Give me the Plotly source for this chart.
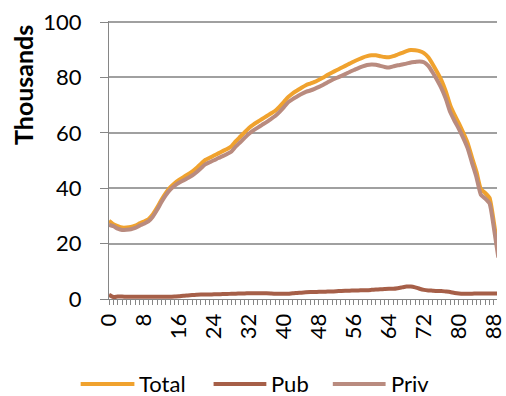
import plotly.graph_objects as go

# Age in single years
age = list(range(90))

# Population by age, thousands
total = [
    28.3, 27.0, 26.3, 25.8, 25.8, 26.0, 26.5, 27.3, 28.0, 28.8,
    30.5, 33.0, 35.8, 38.3, 40.3, 41.8, 43.0, 44.0, 45.0, 46.0,
    47.3, 48.8, 50.2, 51.0, 51.8, 52.6, 53.4, 54.2, 55.2, 57.0,
    58.6, 60.2, 61.8, 63.0, 64.0, 65.0, 66.0, 67.0, 68.0, 69.5,
    71.2, 73.0, 74.3, 75.3, 76.3, 77.2, 77.8, 78.4, 79.2, 80.0,
    81.0, 81.8, 82.6, 83.4, 84.2, 85.0, 85.8, 86.5, 87.2, 87.7,
    88.0, 88.0, 87.7, 87.4, 87.3, 87.7, 88.3, 88.9, 89.5, 89.9,
    89.8, 89.5, 88.8, 87.3, 84.8, 82.0, 79.0, 75.0, 70.0, 66.5,
    63.4, 60.0, 56.3, 51.0, 46.0, 39.7, 38.3, 36.5, 27.5, 17.0,
]
pub = [
    1.5, 0.7, 0.9, 0.9, 0.8, 0.8, 0.8, 0.8, 0.8, 0.8,
    0.8, 0.8, 0.8, 0.8, 0.8, 0.9, 1.0, 1.2, 1.3, 1.4,
    1.5, 1.6, 1.6, 1.6, 1.7, 1.7, 1.8, 1.8, 1.9, 1.9,
    2.0, 2.0, 2.1, 2.1, 2.1, 2.1, 2.1, 2.0, 1.9, 1.9,
    1.9, 1.9, 2.1, 2.2, 2.3, 2.4, 2.5, 2.5, 2.6, 2.6,
    2.7, 2.7, 2.8, 2.9, 3.0, 3.0, 3.1, 3.1, 3.2, 3.2,
    3.3, 3.4, 3.5, 3.6, 3.7, 3.7, 3.9, 4.2, 4.5, 4.5,
    4.2, 3.7, 3.3, 3.1, 3.0, 2.9, 2.9, 2.7, 2.5, 2.2,
    2.0, 1.9, 1.9, 1.9, 2.0, 2.0, 2.0, 2.0, 2.0, 2.0,
]
priv = [
    26.8, 26.3, 25.4, 24.9, 25.0, 25.2, 25.7, 26.5, 27.2, 28.0,
    29.7, 32.2, 35.0, 37.5, 39.5, 40.9, 42.0, 42.8, 43.7, 44.6,
    45.8, 47.2, 48.6, 49.4, 50.1, 50.9, 51.6, 52.4, 53.3, 55.1,
    56.6, 58.2, 59.7, 60.9, 61.9, 62.9, 63.9, 65.0, 66.1, 67.6,
    69.3, 71.1, 72.2, 73.1, 74.0, 74.8, 75.3, 75.9, 76.6, 77.4,
    78.3, 79.1, 79.8, 80.5, 81.2, 82.0, 82.7, 83.4, 84.0, 84.5,
    84.7, 84.6, 84.2, 83.8, 83.6, 84.0, 84.4, 84.7, 85.0, 85.4,
    85.6, 85.8, 85.5, 84.2, 81.8, 79.1, 76.1, 72.3, 67.5, 64.3,
    61.4, 58.1, 54.4, 49.1, 44.0, 37.7, 36.3, 34.5, 25.5, 15.0,
]

tick_vals = list(range(0, 89, 8))
tick_text = [str(v) for v in tick_vals]
y_ticks = [0, 20, 40, 60, 80, 100]

FONT = "Lato"
AXIS_GREY = "#868686"
GRID_GREY = "#A0A0A0"
Y_RANGE = [0, 100.4]

# (name, values, colour, y-axis) - Pub shares the tick-mark companion axis
series = [
    ("Total", total, "#F0A22E", "y"),
    ("Pub", pub, "#A65F48", "y2"),
    ("Priv", priv, "#B98B7F", "y"),
]

# plot-area geometry in pixels, used to place the hand-built legend
L, R, T, B = 109, 506, 21, 299


def px_x(p):
    return (p - L) / (R - L)


def px_y(p):
    return (B - p) / (B - T)


fig = go.Figure()
for name, vals, color, yax in series:
    fig.add_trace(go.Scatter(
        x=age, y=vals, mode="lines", name=name, showlegend=False, yaxis=yax,
        line=dict(color=color, width=4, shape="spline", smoothing=0.5),
    ))

# legend: a line sample followed by its label
legend_spots = [(80, 135), (216, 270), (338, 392)]
shapes, annotations = [], []
for (x0, x1), (name, _, color, _ax) in zip(legend_spots, series):
    shapes.append(dict(
        type="line", xref="paper", yref="paper",
        x0=px_x(x0), x1=px_x(x1), y0=px_y(384), y1=px_y(384),
        line=dict(color=color, width=4),
    ))
    annotations.append(dict(
        text=name, showarrow=False, xref="paper", yref="paper",
        x=px_x(x1 + 3), y=px_y(383), xanchor="left", yanchor="middle",
        font=dict(family=FONT, size=22),
    ))

annotations.append(dict(
    text="<b>Thousands</b>", textangle=-90, showarrow=False,
    xref="paper", yref="paper", x=px_x(21), y=px_y(85),
    xanchor="center", yanchor="middle",
    font=dict(family=FONT, size=25),
))

fig.update_layout(
    width=506, height=396,
    margin=dict(l=L, r=506 - R, t=T, b=396 - B),
    paper_bgcolor="white", plot_bgcolor="white",
    font=dict(family=FONT, size=22, color="#000000"),
    showlegend=False,
    xaxis=dict(
        range=[0, 88.7], tickmode="array", tickvals=tick_vals, ticktext=tick_text,
        tickangle=-90, ticks="outside", ticklen=5, tickcolor=AXIS_GREY,
        minor=dict(dtick=1, tick0=0, ticks="outside", ticklen=5,
                   tickcolor=AXIS_GREY, showgrid=False),
        showline=True, linecolor=AXIS_GREY, linewidth=1,
        showgrid=False, zeroline=False, tickfont=dict(size=22),
        ticklabeloverflow="allow",
    ),
    yaxis=dict(
        range=Y_RANGE, tickmode="array", tickvals=y_ticks,
        ticks="outside", ticklen=8, tickcolor=AXIS_GREY,
        showline=True, linecolor=AXIS_GREY, linewidth=1,
        showgrid=True, gridcolor=GRID_GREY, gridwidth=1.5, zeroline=False,
        tickfont=dict(size=22), ticklabelstandoff=14,
    ),
    # companion axis that carries the outside tick marks
    yaxis2=dict(
        overlaying="y", side="left", range=Y_RANGE, tickmode="array",
        tickvals=y_ticks, ticks="outside", ticklen=8, tickcolor=AXIS_GREY,
        tickwidth=1, showticklabels=False, showgrid=False, showline=False,
        zeroline=False,
    ),
    shapes=shapes,
    annotations=annotations,
)

fig.write_html("out.html")
